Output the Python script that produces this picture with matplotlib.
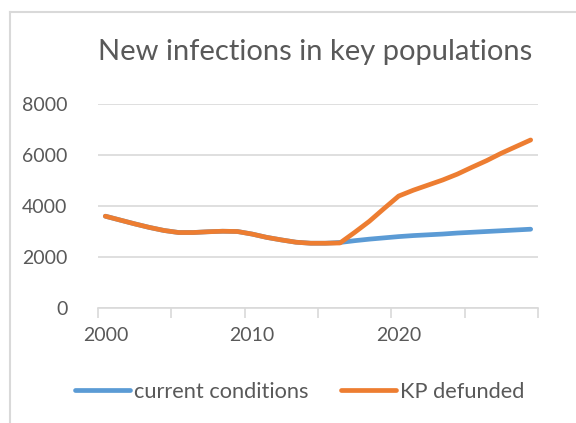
import matplotlib
matplotlib.use("Agg")
import matplotlib.pyplot as plt
from matplotlib.lines import Line2D

years = list(range(2000, 2030))
current_conditions = [3600, 3450, 3300, 3160, 3040, 2960, 2960, 2990, 3010, 3000,
                      2900, 2770, 2670, 2580, 2540, 2540, 2570, 2640, 2700, 2750,
                      2800, 2840, 2870, 2900, 2940, 2970, 3000, 3030, 3060, 3090]
kp_defunded = [3600, 3450, 3300, 3160, 3040, 2960, 2960, 2990, 3010, 3000,
               2900, 2770, 2670, 2580, 2540, 2540, 2550, 2965, 3400, 3900,
               4390, 4620, 4820, 5020, 5250, 5520, 5780, 6070, 6330, 6590]
tick_labels = ["2000", "2010", "2020"]
title = "New infections in key populations"
series_names = ["current conditions", "KP defunded"]

BLUE = "#5B9BD5"
ORANGE = "#ED7D31"
TXT = "#595959"
GRID = "#D9D9D9"

plt.rcParams['font.family'] = ['Lato', 'DejaVu Sans']

W, H = 576, 423
fig = plt.figure(figsize=(W / 100, H / 100), dpi=100)
ax = fig.add_axes([98 / W, 1 - 308 / H, 440 / W, 204 / H])

x = list(range(len(years)))
ax.plot(x, current_conditions, color=BLUE, lw=3.4, solid_capstyle='round', zorder=3)
ax.plot(x, kp_defunded, color=ORANGE, lw=3.4, solid_capstyle='round', zorder=4)

ax.set_xlim(-0.5, len(years) - 0.5)
ax.set_ylim(0, 8000)
ax.set_yticks([0, 2000, 4000, 6000, 8000])
ax.set_yticklabels(["0", "2000", "4000", "6000", "8000"])
ax.yaxis.grid(True, color=GRID, lw=1.2)
ax.set_axisbelow(True)
for s in ["top", "right", "left"]:
    ax.spines[s].set_visible(False)
ax.spines["bottom"].set_color(GRID)
ax.spines["bottom"].set_linewidth(1.2)
ax.tick_params(axis='y', length=0, pad=22, labelsize=14, labelcolor=TXT)

# major ticks as labels, minor as tick marks
lab_pos = [years.index(int(t)) for t in tick_labels]
ax.set_xticks(lab_pos)
ax.set_xticklabels(tick_labels)
ax.tick_params(axis='x', which='major', length=0, pad=14, labelsize=14, labelcolor=TXT)
ax.set_xticks([i - 0.5 for i in range(0, len(years) + 1, 5)], minor=True)
ax.tick_params(axis='x', which='minor', length=7, width=1.2, color=GRID, direction='out')

fig.text(315 / W, 1 - 52 / H, title, ha='center', va='center', fontsize=21, color=TXT)

handles = [Line2D([0], [0], color=BLUE, lw=3.4, solid_capstyle='round'),
           Line2D([0], [0], color=ORANGE, lw=3.4, solid_capstyle='round')]
fig.legend(handles, series_names, loc='center', bbox_to_anchor=(300 / W, 1 - 392 / H),
           ncol=2, frameon=False, fontsize=15.7, labelcolor=TXT,
           handlelength=2.5, handletextpad=0.2, columnspacing=1.5)

# chart border (partially visible)
fig.add_artist(Line2D([10 / W, 10 / W], [0, 1 - 12 / H], color=GRID, lw=1.5,
                      transform=fig.transFigure))
fig.add_artist(Line2D([10 / W, 1], [1 - 12 / H, 1 - 12 / H], color=GRID, lw=1.5,
                      transform=fig.transFigure))

fig.savefig("out.png", dpi=100)
